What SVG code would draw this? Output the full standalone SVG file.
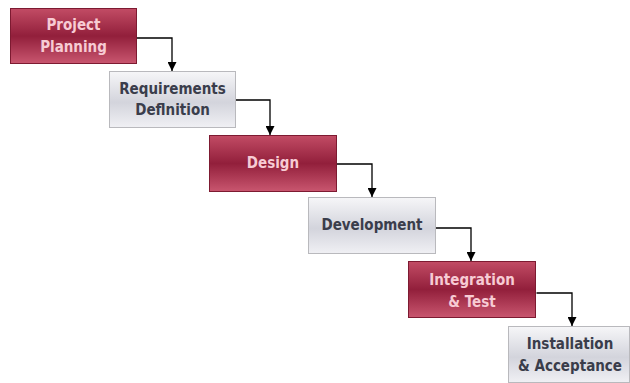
<svg xmlns="http://www.w3.org/2000/svg" width="630" height="383" viewBox="0 0 630 383">
<defs>
<linearGradient id="gRed" x1="0" y1="0" x2="0" y2="1">
<stop offset="0" stop-color="#c24c65"/>
<stop offset="0.5" stop-color="#921f3b"/>
<stop offset="1" stop-color="#c9566f"/>
</linearGradient>
<linearGradient id="gGray" x1="0" y1="0" x2="0" y2="1">
<stop offset="0" stop-color="#f6f6f8"/>
<stop offset="0.55" stop-color="#d3d4dc"/>
<stop offset="1" stop-color="#f0f0f4"/>
</linearGradient>
<marker id="arr" viewBox="0 0 10 10" refX="10" refY="5" markerWidth="9" markerHeight="9" markerUnits="userSpaceOnUse" orient="auto">
<path d="M0,0 L10,5 L0,10 z" fill="#000"/>
</marker>
<style>
.red rect{fill:url(#gRed);stroke:#7d1a31;stroke-width:1}
.gray rect{fill:url(#gGray);stroke:#b9b9bd;stroke-width:1}
text{font-family:"DejaVu Sans Condensed","DejaVu Sans","Liberation Sans",sans-serif;font-stretch:condensed;font-weight:bold;font-size:15px;text-anchor:middle}
.red text{fill:#f7cbd4}
.gray text{fill:#3a3d4b}
#connectors path{fill:none;stroke:#000;stroke-width:1.3;marker-end:url(#arr)}
</style>
</defs>
<rect width="630" height="383" fill="#fff"/>
<g id="connectors">
<path d="M136.5,38 H172 V71"/>
<path d="M235.5,100 H270 V135"/>
<path d="M336.5,164 H372 V197"/>
<path d="M435.5,228 H471 V261"/>
<path d="M536.5,293 H572 V326"/>
</g>
<g id="n1" class="red">
<rect x="10.5" y="8.5" width="126" height="55"/>
<text x="73.5" y="30">Project</text>
<text x="73.5" y="52">Planning</text>
</g>
<g id="n2" class="gray">
<rect x="109.5" y="71.5" width="126" height="56"/>
<text x="172.5" y="94">Requirements</text>
<text x="172.5" y="115">Deflnition</text>
</g>
<g id="n3" class="red">
<rect x="209.5" y="135.5" width="127" height="56"/>
<text x="273" y="168">Design</text>
</g>
<g id="n4" class="gray">
<rect x="308.5" y="197.5" width="127" height="56"/>
<text x="372" y="230">Development</text>
</g>
<g id="n5" class="red">
<rect x="408.5" y="261.5" width="127" height="56"/>
<text x="472" y="285">Integration</text>
<text x="472" y="307">&amp; Test</text>
</g>
<g id="n6" class="gray">
<rect x="508.5" y="326.5" width="121" height="56"/>
<text x="570" y="349">Installation</text>
<text x="570" y="371">&amp; Acceptance</text>
</g>
</svg>
